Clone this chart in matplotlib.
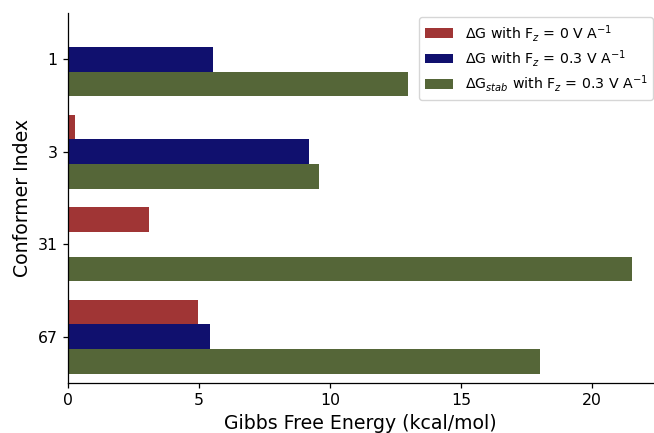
import numpy as np
import matplotlib
matplotlib.use("Agg")
import matplotlib.pyplot as plt

conformers = ["1", "3", "31", "67"]
dg_field0 = [0.0, 0.27, 3.09, 4.96]
dg_field03 = [5.53, 9.20, 0.0, 5.42]
dg_stab_field03 = [12.98, 9.58, 21.53, 18.02]

labels = [r"$\Delta$G with F$_z$ = 0 V A$^{-1}$",
          r"$\Delta$G with F$_z$ = 0.3 V A$^{-1}$",
          r"$\Delta$G$_{stab}$ with F$_z$ = 0.3 V A$^{-1}$"]
colours = ["#a03535", "#10106e", "#556638"]

# reference looks rendered at ~113 dpi, so everything is a bit bigger
s = 1.13
fig = plt.figure(figsize=(6.54, 4.33), dpi=100)
ax = fig.add_axes([68/654, 1 - 383/433, (653-68)/654, (383-13)/433])

y = np.arange(len(conformers))
h = 0.8/3
series = [dg_field0, dg_field03, dg_stab_field03]
for i, vals in enumerate(series):
    ax.barh(y + (i-1)*h, vals, height=h, color=colours[i], label=labels[i])

ax.set_yticks(y)
ax.set_yticklabels(conformers)
ax.set_ylim(3.5, -0.5)
ax.set_xlim(0, 22.33)
ax.set_xticks([0, 5, 10, 15, 20])
ax.tick_params(labelsize=10*s, length=3.5*s, width=0.8*s)
ax.set_xlabel("Gibbs Free Energy (kcal/mol)", fontsize=12*s)
ax.set_ylabel("Conformer Index", fontsize=12*s)
for sp in ["left", "bottom"]:
    ax.spines[sp].set_linewidth(0.8*s)
ax.spines["top"].set_visible(False)
ax.spines["right"].set_visible(False)
ax.legend(loc="upper right", fontsize=9*s, labelspacing=0.3, borderaxespad=0,
          bbox_to_anchor=(653/654, 1 - 17/433), bbox_transform=fig.transFigure)

fig.savefig("out.png", dpi=100)
